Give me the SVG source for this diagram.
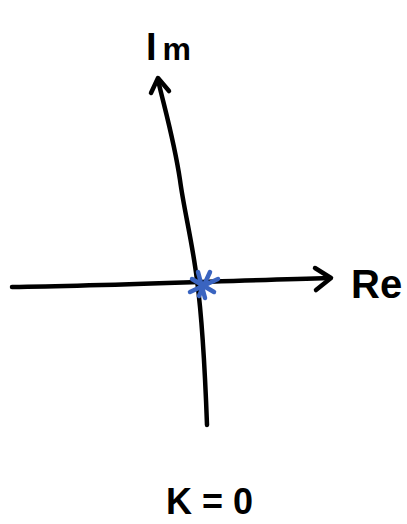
<svg xmlns="http://www.w3.org/2000/svg" width="407" height="524" viewBox="0 0 407 524">
<style>
.ax{fill:none;stroke:#000;stroke-width:4.5;stroke-linecap:round;stroke-linejoin:round}
.lbl{font-family:"Liberation Sans",Arial,sans-serif;font-weight:bold;fill:#000}
.star{fill:none;stroke:#3a64c0;stroke-width:4.5;stroke-linecap:round}
</style>
<rect width="407" height="524" fill="#fff"/>
<g id="connectors">
<path class="ax" d="M12,287 C100,286 220,281 330,278"/>
<path class="ax" d="M315,268 L331,278 L316,290"/>
<path class="ax" d="M207,425 C205,370 201,310 197,280 C192,240 184,210 180,180 C174,140 165,110 158,80"/>
<path class="ax" d="M151,93 L158,78 L169,91"/>
</g>
<g id="origin">
<path class="star" d="M198,272 L205,298 M190,292 L218,279 M192,279 L214,292 M210,272 L199,296"/>
</g>
<g id="im-label"><text class="lbl" x="146" y="60" font-size="38">I<tspan dx="6" font-size="32">m</tspan></text></g>
<g id="re-label"><text class="lbl" x="351" y="298" font-size="40">Re</text></g>
<g id="k-label"><text class="lbl" x="166" y="514" font-size="36">K = 0</text></g>
</svg>
